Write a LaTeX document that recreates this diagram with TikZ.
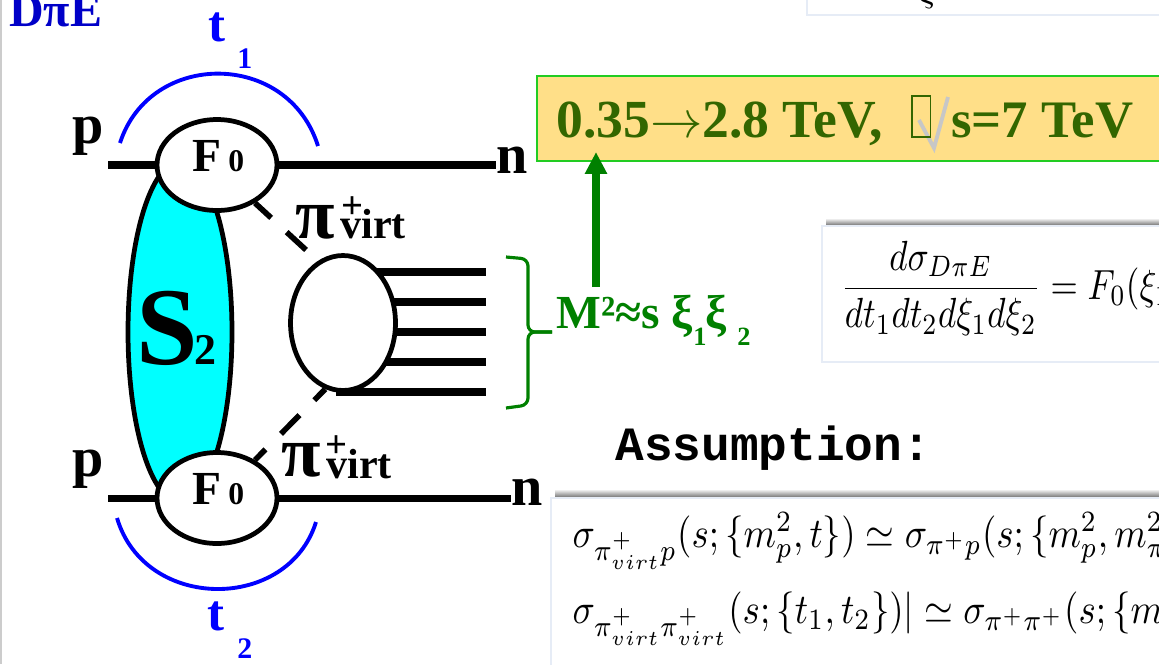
\documentclass[tikz,border=0pt]{standalone}
\usepackage{amsmath,amssymb}
\usepackage{graphicx}
\usepackage[no-math]{fontspec}
\setmainfont{Liberation Serif}
\newfontfamily\assumfont{Liberation Mono}
\usetikzlibrary{shapes.geometric,arrows.meta,positioning,calc}
\definecolor{pomeronblue}{HTML}{00FFFF}
\definecolor{tblue}{HTML}{0000FF}
\definecolor{titleblue}{HTML}{0000C8}
\definecolor{massgreen}{HTML}{008000}
\definecolor{rangegreen}{HTML}{336600}
\definecolor{rangefill}{HTML}{FFDF88}
\definecolor{rangeedge}{HTML}{22CC22}
\definecolor{paneledge}{HTML}{E6ECF6}
\newcommand{\fsz}[1]{\fontsize{#1}{#1}\selectfont\bfseries}

\begin{document}
\begin{tikzpicture}[
    x=0.02cm,y=-0.02cm,
    vertexff/.style  = {ellipse, draw=black, fill=white, line width=2.7pt,
                        minimum width=2.4cm, minimum height=1.82cm, inner sep=0pt},
    blobx/.style     = {ellipse, draw=black, fill=white, line width=2.7pt,
                        minimum width=2.1cm, minimum height=2.7cm, inner sep=0pt},
    gapsurv/.style   = {ellipse, draw=black, fill=pomeronblue, line width=2.7pt,
                        minimum width=2.08cm, minimum height=6.8cm, inner sep=0pt},
    beam/.style      = {black, line width=4pt},
    pion/.style      = {black, line width=3.2pt},
    tarc/.style      = {tblue, line width=2.2pt},
    lab/.style       = {inner sep=0pt, anchor=base west},
    ptlab/.style     = {lab, font=\fsz{32}},
    tlab/.style      = {lab, text=tblue, font=\fsz{29}},
    tsub/.style      = {lab, text=tblue, font=\fsz{17}},
    pilab/.style     = {lab, font=\fsz{41}},
    virtlab/.style   = {lab, font=\fsz{24}},
    pluslab/.style   = {lab, font=\fsz{22}},
    panel/.style     = {draw=paneledge, fill=white, line width=0.6pt},
    panelshade/.style= {top color=white, bottom color=black!60, draw=none},
    formula/.style   = {inner sep=0pt, anchor=base west, xscale=2.1, yscale=2.4},
  ]
  \clip (0,0) rectangle (1159,664);

  % ── Slide edge and title ────────────────────────────────────────────────
  \fill[black!20] (0,0) rectangle (2,664);
  \node[lab,text=titleblue,font=\fsz{27.3}] (title) at (9,26) {DπE};

  % ── Formula panels ──────────────────────────────────────────────────────
  \draw[panel] (807,-5) rectangle (1175,15);
  \node[inner sep=0pt,anchor=south,scale=2.1] (xitail) at (928,9) {$\xi$};

  \shade[panelshade] (826,218) rectangle (1175,226);
  \draw[panel] (822,226) rectangle (1175,362);
  \node[formula,xscale=0.95] (rate) at (840,299)
       {$\displaystyle\frac{d\sigma_{D\pi E}}{dt_1dt_2d\xi_1d\xi_2}=F_0(\xi_1$};

  \node[lab,font=\assumfont\fsz{27.2}] (assum) at (615,460) {Assumption:};

  \shade[panelshade] (555,489) rectangle (1175,498);
  \draw[panel] (551,498) rectangle (1175,680);
  \node[formula] (eqone) at (572,547)
       {$\sigma_{\pi^+_{virt}p}(s;\{m_p^2,t\})\simeq\sigma_{\pi^+p}(s;\{m_p^2,m_\pi^2$};
  \node[formula] (eqtwo) at (572,623)
       {$\sigma_{\pi^+_{virt}\pi^+_{virt}}(s;\{t_1,t_2\})|\simeq\sigma_{\pi^+\pi^+}(s;\{m$};

  % ── Energy range box ────────────────────────────────────────────────────
  \node[draw=rangeedge,fill=rangefill,line width=1.2pt,inner sep=0pt,anchor=north west,
        minimum width=13cm,minimum height=1.7cm] (rangebox) at (535.5,75) {};
  \node[lab,text=rangegreen,font=\fsz{30.5}] (rangeone) at (556,137)
       {0.35\scalebox{1.2}{$\rightarrow$}2.8 TeV,};
  \draw[black!22,line width=2.2pt] (919,120) -- (934,148) -- (948,97);
  \node[draw=rangegreen,line width=1.1pt,inner sep=0pt,anchor=north west,
        minimum width=0.37cm,minimum height=0.82cm] (tofu) at (911,95) {};
  \node[lab,text=rangegreen,font=\fsz{30}] (rangetwo) at (951,137) {s=7 TeV};

  % ── Survival factor ─────────────────────────────────────────────────────
  \node[gapsurv] (gap) at (180,332) {};
  \node[lab,font=\fsz{63}] (sname) at (136,364) {S};
  \node[lab,font=\fsz{25}] (stwo) at (194,364) {2};

  % ── Pion form factor vertices ───────────────────────────────────────────
  \node[vertexff] (topff) at (217,165) {};
  \node[vertexff] (botff) at (217,498) {};
  \foreach \v/\y in {topff/171,botff/504}{
    \node[lab,font=\fsz{27}] (\v F) at (192,\y) {F};
    \node[lab,font=\fsz{18}] (\v z) at (228,\y) {0};
  }

  % ── Beam lines ──────────────────────────────────────────────────────────
  \node[ptlab] (ptop) at (72,143) {p};
  \node[ptlab] (pbot) at (72,476) {p};
  \node[ptlab] (ntop) at (496,173) {n};
  \node[ptlab] (nbot) at (511,505) {n};
  \coordinate (intop) at (108,165);
  \coordinate (inbot) at (108,498);
  \draw[beam] (intop) -- (topff);
  \draw[beam] (inbot) -- (botff);
  \draw[beam] (topff) -- (topff -| ntop.west);
  \draw[beam] (botff) -- (botff -| nbot.west);

  % ── Central system ──────────────────────────────────────────────────────
  \coordinate (blobc) at (343,323);
  \foreach \y in {272,302,332,362}
    \draw[beam] (blobc |- 0,\y) -- (486,\y);
  \draw[beam] (336,392) -- (486,392);
  \node[blobx] (blob) at (blobc) {};

  \draw[pion,dash pattern=on 12.5pt off 12pt on 15pt off 20pt]
       (topff.-45) -- (blob.112);
  \draw[pion,dash pattern=on 8.5pt off 12.5pt on 15pt off 12pt on 10pt off 20pt]
       (botff.45) -- (blob.-105);

  \node[pilab] (pitop) at (295,238) {π};
  \node[pluslab] (plustop) at (341,218) {+};
  \node[virtlab] (virttop) at (340,238) {virt};
  \node[pilab] (pibot) at (281,476) {π};
  \node[pluslab] (plusbot) at (325,457) {+};
  \node[virtlab] (virtbot) at (326,478) {virt};

  % ── Momentum transfer arcs ──────────────────────────────────────────────
  \draw[tarc] (120,143) .. controls (150,50) and (288,50) .. (318,146);
  \draw[tarc] (117,518) .. controls (145,612) and (288,612) .. (316,522);
  \node[tlab] (tone) at (208,41) {t};
  \node[tsub] (tonesub) at (237,68) {1};
  \node[tlab] (ttwo) at (207,630) {t};
  \node[tsub] (ttwosub) at (237,658) {2};

  % ── Mass bracket and arrow ──────────────────────────────────────────────
  \draw[massgreen,line width=1.8pt,rounded corners=4pt]
       (506,257) -- (528,259) -- (528,332) -- (552,332);
  \draw[massgreen,line width=1.8pt,rounded corners=4pt]
       (552,332) -- (528,332) -- (528,405) -- (506,408);
  \node[lab,text=massgreen,font=\fsz{27}] (mass) at (556,328) {M²≈s ξ};
  \node[lab,text=massgreen,font=\fsz{15}] (xione) at (693,345) {1};
  \node[lab,text=massgreen,font=\fsz{27}] (xitwo) at (705,328) {ξ};
  \node[lab,text=massgreen,font=\fsz{15}] (xithree) at (737,345) {2};
  \coordinate (arrowfoot) at (596,287);
  \coordinate (arrowtip) at (596,152);
  \draw[massgreen,line width=4pt,-{Triangle[length=12.5pt,width=12pt]}]
       (arrowfoot) -- (arrowtip);

\end{tikzpicture}
\end{document}
